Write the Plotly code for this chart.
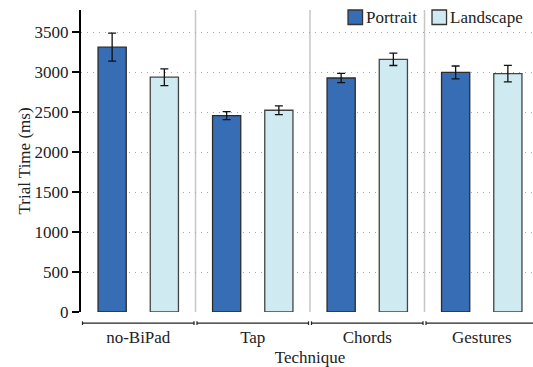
import plotly.graph_objects as go

# Trial time per technique and orientation (ms), with error bar half-widths
techniques = ["no-BiPad", "Tap", "Chords", "Gestures"]
portrait = [3310, 2455, 2925, 2995]
portrait_err = [175, 50, 58, 80]
landscape = [2935, 2522, 3158, 2980]
landscape_err = [105, 55, 77, 104]
y_ticks = [0, 500, 1000, 1500, 2000, 2500, 3000, 3500]

PORTRAIT_COL = "#376db4"
LANDSCAPE_COL = "#d0eaf2"
font17 = dict(family="Liberation Serif", size=17, color="#222")

fig = go.Figure()

fig.add_trace(go.Bar(
    x=techniques, y=portrait, name="Portrait",
    marker=dict(color=PORTRAIT_COL, line=dict(color="#2b2b2b", width=1.3)),
    error_y=dict(type="data", array=portrait_err, color="#111", thickness=1.3, width=4),
))
fig.add_trace(go.Bar(
    x=techniques, y=landscape, name="Landscape",
    marker=dict(color=LANDSCAPE_COL, line=dict(color="#444", width=1.3)),
    error_y=dict(type="data", array=landscape_err, color="#111", thickness=1.3, width=4),
))

# --- group separators and brackets under the axis ---
shapes = []
for i in range(len(techniques)):
    if i > 0:
        shapes.append(dict(type="line", xref="x", yref="paper", x0=i - 0.5, x1=i - 0.5,
                           y0=0, y1=1, line=dict(color="#c6c6c6", width=1.5), layer="below"))
    a, b = i - 0.487, i + 0.487
    yb = -0.037
    shapes.append(dict(type="line", xref="x", yref="paper", x0=a, x1=b, y0=yb, y1=yb,
                       line=dict(color="#222", width=1.2)))
    for xe in (a, b):
        shapes.append(dict(type="line", xref="x", yref="paper", x0=xe, x1=xe,
                           y0=yb - 0.006, y1=yb + 0.006, line=dict(color="#222", width=1.2)))

# --- compact legend drawn by hand (plotly's own is too wide) ---
annotations = []
for (bx0, tx), name, col in zip([(0.583, 0.6223), (0.7664, 0.8057)],
                                ["Portrait", "Landscape"], [PORTRAIT_COL, LANDSCAPE_COL]):
    shapes.append(dict(type="rect", xref="paper", yref="paper", x0=bx0, x1=bx0 + 0.0317,
                       y0=0.952, y1=1.0, fillcolor=col, line=dict(color="#333", width=1.3)))
    annotations.append(dict(text=name, xref="paper", yref="paper", x=tx, y=0.976,
                            xanchor="left", yanchor="middle", showarrow=False,
                            font=font17, xshift=-2))

# plot area runs a little past the right edge of the window, like the original
fig.update_layout(
    width=539, height=367,
    margin=dict(l=81, r=0, t=10, b=55),
    paper_bgcolor="white", plot_bgcolor="white",
    font=font17,
    barmode="group", bargap=0.088, bargroupgap=0.46,
    shapes=shapes, annotations=annotations,
    showlegend=False,
    xaxis=dict(
        range=[-0.5, 3.5], showline=False, showgrid=False, zeroline=False,
        ticks="outside", ticklen=10, tickcolor="rgba(0,0,0,0)",
        tickfont=font17,
        title=dict(text="Technique", font=font17, standoff=6),
    ),
    yaxis=dict(
        range=[0, 3775], tickvals=y_ticks, showline=True, linecolor="black", linewidth=2,
        ticks="outside", ticklen=7, tickwidth=1.5, tickcolor="black",
        showgrid=True, gridcolor="#a8a8a8", gridwidth=1.3, griddash="1px,5px",
        zeroline=False, tickfont=font17,
        title=dict(text="Trial Time (ms)", font=font17, standoff=0),
    ),
)

fig.write_html("out.html", config={"displayModeBar": False},
               post_script="document.body.style.margin='0';document.body.style.overflow='hidden';")
